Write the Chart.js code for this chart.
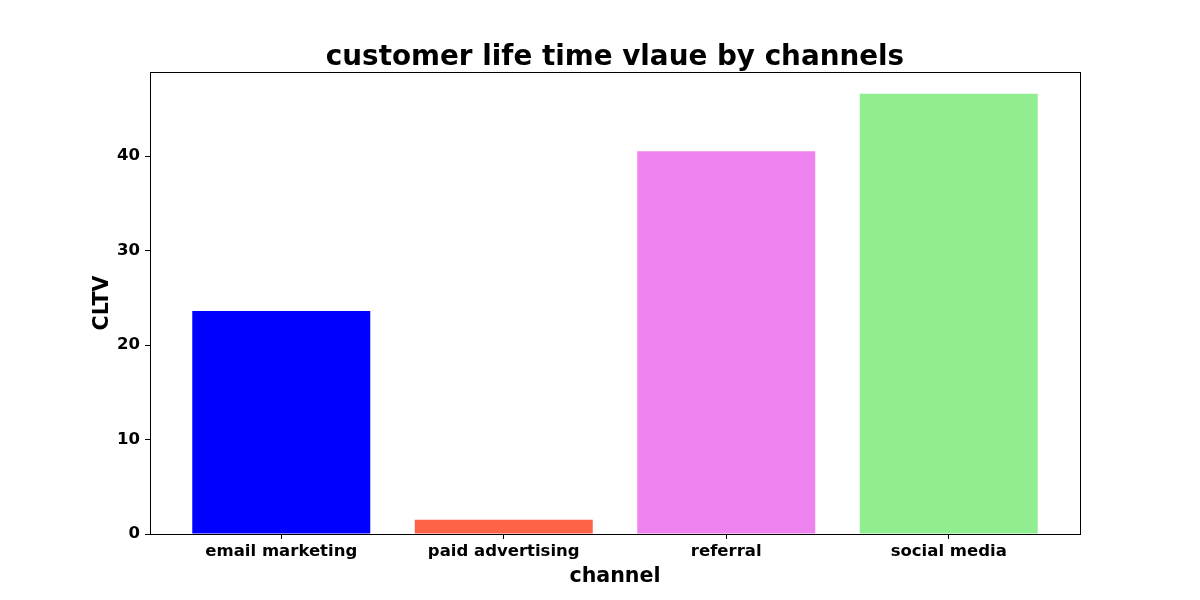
<!DOCTYPE html>
<html>
<head>
<meta charset="utf-8">
<script src="https://cdn.jsdelivr.net/npm/chart.js@4/dist/chart.umd.min.js"></script>
<style>
html,body{margin:0;padding:0;background:#fff;}
#wrap{width:1200px;height:600px;}
</style>
</head>
<body>
<div id="wrap"><canvas id="c" width="1200" height="600"></canvas></div>
<script>
const categories = ["email marketing", "paid advertising", "referral", "social media"];
const cltvValues = [23.6, 1.5, 40.5, 46.6];
const barColors = ["#0000ff", "#ff6347", "#ee82ee", "#90ee90"];
const yTickValues = [0, 10, 20, 30, 40];

const FONT = "'DejaVu Sans', sans-serif";

const framePlugin = {
  id: 'frame',
  afterDraw(chart) {
    const {ctx, chartArea: a} = chart;
    ctx.save();
    ctx.strokeStyle = '#000';
    ctx.lineWidth = 1;
    ctx.strokeRect(Math.round(a.left) + 0.5, Math.round(a.top) + 0.5, Math.round(a.right - a.left), Math.round(a.bottom - a.top));
    ctx.restore();
  }
};

new Chart(document.getElementById('c'), {
  type: 'bar',
  data: {
    datasets: [{
      data: categories.map((c, i) => ({x: i, y: cltvValues[i]})),
      backgroundColor: barColors,
      borderWidth: 0,
      barPercentage: 0.8,
      categoryPercentage: 1.0
    }]
  },
  options: {
    responsive: false,
    animation: false,
    layout: {padding: {left: 30, right: 0, top: 0, bottom: 0}},
    plugins: {
      legend: {display: false},
      tooltip: {enabled: false},
      title: {
        display: true,
        text: 'customer life time vlaue by channels',
        color: '#000',
        font: {family: FONT, size: 27.8, weight: 'bold', lineHeight: 1.0},
        padding: {top: 43.8, bottom: 0.4}
      }
    },
    scales: {
      x: {
        type: 'linear',
        offset: false,
        min: -0.59,
        max: 3.59,
        afterBuildTicks: (s) => { s.ticks = categories.map((c, i) => ({value: i})); },
        afterFit: (s) => { s.height = 66; },
        ticks: {
          color: '#000',
          font: {family: FONT, size: 16.5, weight: 'bold'},
          padding: 3,
          maxRotation: 0,
          autoSkip: false,
          callback: (v) => categories[v]
        },
        grid: {offset: false, drawOnChartArea: false, drawTicks: true, tickLength: 5, color: '#000'},
        border: {display: true, color: '#000'},
        title: {
          display: true,
          text: 'channel',
          color: '#000',
          font: {family: FONT, size: 20.6, weight: 'bold', lineHeight: 1.2},
          padding: {top: 0, bottom: 11}
        }
      },
      y: {
        min: 0,
        max: 48.9,
        afterBuildTicks: (s) => { s.ticks = yTickValues.map(v => ({value: v})); },
        afterFit: (s) => { s.width = 120; },
        ticks: {
          color: '#000',
          font: {family: FONT, size: 16.5, weight: 'bold'},
          padding: 5
        },
        grid: {drawOnChartArea: false, drawTicks: true, tickLength: 5, color: '#000'},
        border: {display: true, color: '#000'},
        title: {
          display: true,
          text: 'CLTV',
          color: '#000',
          font: {family: FONT, size: 20.6, weight: 'bold', lineHeight: 1.2},
          padding: {top: 60, bottom: 0}
        }
      },
      yRight: {
        type: 'linear',
        position: 'right',
        display: true,
        min: 0,
        max: 48.9,
        afterFit: (s) => { s.width = 120; },
        ticks: {display: false},
        grid: {display: false},
        border: {display: false}
      }
    }
  },
  plugins: [framePlugin]
});
</script>
</body>
</html>
